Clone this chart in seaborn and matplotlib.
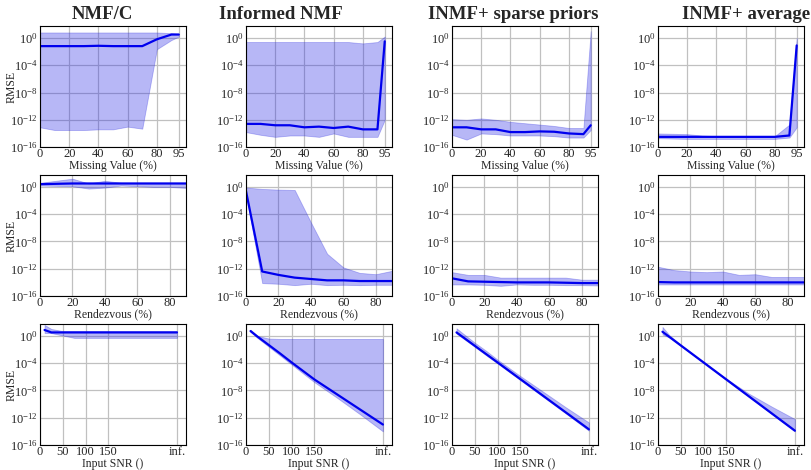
import numpy as np
import pandas as pd

import seaborn as sns
import matplotlib
matplotlib.use('Agg')
import matplotlib.pyplot as plt

# titles and axis texts
methods = ['NMF/C', 'Informed NMF', 'INMF+ sparse priors', 'INMF+ average']
row_xlabels = ['Missing Value (%)', 'Rendezvous (%)', 'Input SNR ()']

# x values of each experiment (last SNR point is the "inf." case)
mv_x = [0, 10, 20, 30, 40, 50, 60, 70, 80, 90, 95]
rv_x = [0, 10, 20, 30, 40, 50, 60, 70, 80, 90]
snr_x = [10, 25, 50, 75, 100, 150, 200, 250, 300]

mv_ticks = [0, 20, 40, 60, 80, 95]
rv_ticks = [0, 20, 40, 60, 80]
snr_ticks = [0, 50, 100, 150, 300]
snr_ticklabels = ['0', '50', '100', '150', 'inf.']

# RMSE, stored as log10 exponents (median, upper, lower)
mv_nmfc_mid = [-1.2, -1.2, -1.2, -1.2, -1.15, -1.2, -1.2, -1.2, -0.2, 0.5, 0.5]
mv_nmfc_hi = [0.8, 0.8, 0.8, 0.8, 0.8, 0.8, 0.8, 0.8, 0.8, 0.7, 0.6]
mv_nmfc_lo = [-13.1, -13.5, -13.5, -13.5, -13.4, -13.4, -13.0, -13.3, -1.65, -0.3, 0.2]

mv_inmf_mid = [-12.6, -12.6, -12.8, -12.8, -13.1, -13.0, -13.2, -13.0, -13.4, -13.4, -0.5]
mv_inmf_hi = [-0.6, -0.6, -0.6, -0.6, -0.6, -0.6, -0.6, -0.6, -0.8, -0.6, 0.2]
mv_inmf_lo = [-13.8, -14.2, -14.5, -14.3, -14.3, -14.5, -14.0, -14.5, -14.5, -14.5, -12.0]

mv_sparse_mid = [-13.1, -13.1, -13.4, -13.4, -13.8, -13.8, -13.7, -13.75, -14.0, -14.1, -12.8]
mv_sparse_hi = [-11.9, -12.0, -11.8, -12.0, -12.3, -12.5, -12.7, -12.9, -13.2, -13.2, 1.0]
mv_sparse_lo = [-14.2, -14.9, -14.0, -14.1, -14.3, -14.3, -14.3, -14.4, -14.6, -14.6, -13.5]

mv_avg_mid = [-14.5, -14.5, -14.5, -14.5, -14.5, -14.5, -14.5, -14.5, -14.5, -14.3, -1.1]
mv_avg_hi = [-14.0, -14.05, -14.1, -14.3, -14.4, -14.4, -14.4, -14.4, -14.4, -12.7, 0.0]
mv_avg_lo = [-14.7, -14.75, -14.8, -14.8, -14.8, -14.8, -14.8, -14.8, -14.8, -14.6, -13.1]

rv_nmfc_mid = [0.4, 0.45, 0.5, 0.5, 0.5, 0.5, 0.5, 0.5, 0.5, 0.5]
rv_nmfc_hi = [0.6, 0.9, 1.2, 0.5, 0.9, 0.6, 0.6, 0.6, 0.6, 0.6]
rv_nmfc_lo = [0.2, 0.15, 0.1, -0.25, -0.1, 0.2, 0.1, 0.0, 0.0, -0.15]

rv_inmf_mid = [-0.6, -12.4, -12.9, -13.3, -13.5, -13.7, -13.7, -13.8, -13.8, -13.8]
rv_inmf_hi = [-0.1, -0.3, -0.4, -0.45, -5.2, -9.8, -11.8, -12.6, -12.8, -12.3]
rv_inmf_lo = [-1.1, -14.1, -14.2, -14.4, -14.2, -14.4, -14.35, -14.4, -14.35, -14.35]

rv_sparse_mid = [-13.4, -13.85, -13.9, -13.95, -14.0, -14.0, -14.0, -14.05, -14.1, -14.1]
rv_sparse_hi = [-12.5, -12.9, -12.9, -13.3, -13.3, -13.3, -13.3, -13.3, -13.6, -13.6]
rv_sparse_lo = [-14.3, -14.3, -14.35, -14.5, -14.3, -14.35, -14.35, -14.4, -14.4, -14.45]

rv_avg_mid = [-13.95, -14.0, -14.0, -14.0, -14.0, -14.0, -14.0, -14.0, -14.0, -14.0]
rv_avg_hi = [-11.7, -12.2, -12.4, -12.5, -12.4, -12.9, -12.8, -13.2, -13.2, -13.2]
rv_avg_lo = [-14.3, -14.3, -14.3, -14.3, -14.3, -14.3, -14.3, -14.3, -14.3, -14.3]

snr_nmfc_mid = [0.86, 0.5, 0.5, 0.5, 0.5, 0.5, 0.5, 0.5, 0.5]
snr_nmfc_hi = [1.6, 1.0, 0.7, 0.7, 0.7, 0.7, 0.7, 0.7, 0.7]
snr_nmfc_lo = [0.4, 0.4, 0.05, -0.3, -0.3, -0.3, -0.3, -0.3, -0.3]

snr_inmf_mid = [0.7, -0.1, -1.35, -2.6, -3.9, -6.4, -8.6, -10.8, -13.0]
snr_inmf_hi = [0.9, 0.0, -0.4, -0.45, -0.45, -0.45, -0.45, -0.45, -0.45]
snr_inmf_lo = [0.6, -0.3, -1.6, -2.9, -4.2, -6.8, -9.1, -11.5, -14.0]

snr_sparse_mid = [0.5, -0.23, -1.46, -2.68, -3.9, -6.35, -8.8, -11.25, -13.7]
snr_sparse_hi = [1.1, 0.3, -1.0, -2.2, -3.5, -5.9, -8.2, -10.5, -12.7]
snr_sparse_lo = [0.35, -0.4, -1.6, -2.85, -4.05, -6.5, -8.95, -11.4, -13.9]

snr_avg_mid = [0.6, -0.15, -1.4, -2.65, -3.9, -6.4, -8.9, -11.4, -13.9]
snr_avg_hi = [1.3, 0.1, -1.3, -2.6, -3.85, -6.3, -8.5, -10.4, -12.2]
snr_avg_lo = [0.2, -0.25, -1.5, -2.75, -4.0, -6.5, -9.0, -11.5, -14.0]


def make_rows():
    '''collect per-panel series into one table per row of the figure'''
    rows = [
        (mv_x, [(mv_nmfc_mid, mv_nmfc_hi, mv_nmfc_lo), (mv_inmf_mid, mv_inmf_hi, mv_inmf_lo),
                (mv_sparse_mid, mv_sparse_hi, mv_sparse_lo), (mv_avg_mid, mv_avg_hi, mv_avg_lo)]),
        (rv_x, [(rv_nmfc_mid, rv_nmfc_hi, rv_nmfc_lo), (rv_inmf_mid, rv_inmf_hi, rv_inmf_lo),
                (rv_sparse_mid, rv_sparse_hi, rv_sparse_lo), (rv_avg_mid, rv_avg_hi, rv_avg_lo)]),
        (snr_x, [(snr_nmfc_mid, snr_nmfc_hi, snr_nmfc_lo), (snr_inmf_mid, snr_inmf_hi, snr_inmf_lo),
                 (snr_sparse_mid, snr_sparse_hi, snr_sparse_lo), (snr_avg_mid, snr_avg_hi, snr_avg_lo)]),
    ]
    tables = []
    for x, panels in rows:
        dfs = []
        for m, (mid, hi, lo) in zip(methods, panels):
            dfs.append(pd.DataFrame({'x': x, 'method': m,
                                     'mid': np.power(10.0, mid),
                                     'hi': np.power(10.0, hi),
                                     'lo': np.power(10.0, lo)}))
        tables.append(pd.concat(dfs, ignore_index=True))
    return tables


sns.set_style('whitegrid', {'axes.edgecolor': 'black', 'grid.color': '#c0c0c0',
                            'axes.linewidth': 1.0})
plt.rcParams['font.family'] = ['Liberation Serif', 'DejaVu Serif']
plt.rcParams['mathtext.fontset'] = 'stix'
plt.rcParams['axes.unicode_minus'] = True

fig, axs = plt.subplots(3, 4, figsize=(8.12, 4.70), dpi=100)
fig.subplots_adjust(left=40/812, right=804/812, top=1-26/470, bottom=1-445/470,
                    wspace=0.41, hspace=0.23)

tables = make_rows()
row_ticks = [(mv_ticks, [str(t) for t in mv_ticks], (0, 100)),
             (rv_ticks, [str(t) for t in rv_ticks], (0, 90)),
             (snr_ticks, snr_ticklabels, (0, 320))]

for r, data in enumerate(tables):
    ticks, labels, xlim = row_ticks[r]
    for c, m in enumerate(methods):
        ax = axs[r, c]
        d = data[data['method'] == m]
        ax.fill_between(d['x'], d['lo'], d['hi'], facecolor='#2626e6', alpha=0.33,
                        edgecolor='#3030e0', linewidth=0.6)
        sns.lineplot(data=d, x='x', y='mid', color='#0000ee', lw=1.6, ax=ax)
        ax.set_yscale('log')
        ax.set_ylim(1e-16, 10**1.75)
        ax.set_yticks([1e-16, 1e-12, 1e-8, 1e-4, 1e0])
        ax.yaxis.set_minor_locator(matplotlib.ticker.NullLocator())
        ax.set_xlim(*xlim)
        ax.set_xticks(ticks)
        ax.set_xticklabels(labels)
        ax.tick_params(axis='y', labelsize=9, length=0, pad=1.5)
        ax.tick_params(axis='x', labelsize=9, length=0, pad=0.5)
        ax.set_xlabel(row_xlabels[r], fontsize=8.5, labelpad=0)
        if c == 0:
            ax.set_ylabel('RMSE', fontsize=8.5)
            ax.yaxis.set_label_coords(-0.155, 0.5)
        else:
            ax.set_ylabel('')
        ax.grid(True, which='major', lw=0.9)
        for s in ax.spines.values():
            s.set_color('black')

# column titles sit as figure text
title_x = [102, 281, 513, 746]
for t, x in zip(methods, title_x):
    fig.text(x/812, 1-19/470, t, ha='center', va='baseline', fontsize=13.5, fontweight='bold')

plt.savefig('out.png', dpi=100)
